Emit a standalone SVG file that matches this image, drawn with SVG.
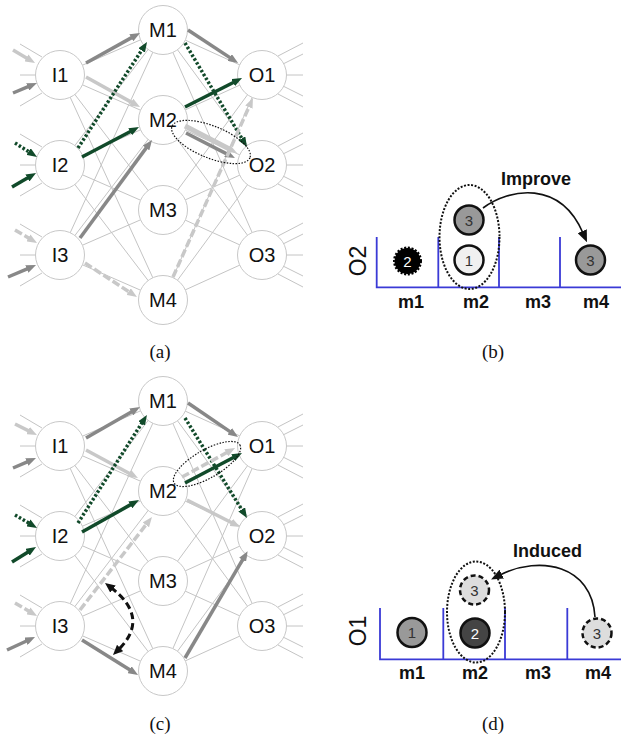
<svg xmlns="http://www.w3.org/2000/svg" xmlns:xlink="http://www.w3.org/1999/xlink" width="623" height="738" viewBox="0 0 623 738">
  <style>
    .bg { stroke: #c4c4c4; stroke-width: 1; fill: none; }
    .node circle { fill: #ffffff; stroke: #c8c8c8; stroke-width: 1; }
    .node text { font-family: "Liberation Sans", Arial, sans-serif; font-size: 20px; text-anchor: middle; fill: #111111; }
    .e { fill: none; stroke-width: 3.5; }
    .dk { stroke: #888888; marker-end: url(#mDk); }
    .lt { stroke: #c8c8c8; marker-end: url(#mLt); }
    .gn { stroke: #114a2a; marker-end: url(#mGn); }
    .dot { stroke-dasharray: 2.5 2; }
    .dash { stroke-dasharray: 8 3; }
    .ring { fill: none; stroke: #111111; stroke-width: 1.2; stroke-dasharray: 1.5 1.5; }
    .bin { stroke: #3a3ad6; stroke-width: 1.8; fill: none; }
    .lbl { font-family: "Liberation Sans", Arial, sans-serif; font-weight: bold; font-size: 18px; text-anchor: middle; fill: #111111; }
    .axis { font-family: "Liberation Sans", Arial, sans-serif; font-size: 23px; text-anchor: middle; fill: #111111; }
    .tok { stroke: #111111; stroke-width: 2.5; }
    .num { font-family: "Liberation Sans", Arial, sans-serif; font-size: 15px; text-anchor: middle; fill: #333333; }
    .cap { font-family: "Liberation Serif", "Times New Roman", serif; font-size: 19px; text-anchor: middle; fill: #111111; }
  </style>
  <defs>
    <marker id="mDk" markerUnits="userSpaceOnUse" markerWidth="10" markerHeight="8" refX="3" refY="4" orient="auto"><path d="M0,0 L10,4 L0,8 z" fill="#888888"/></marker>
    <marker id="mLt" markerUnits="userSpaceOnUse" markerWidth="10" markerHeight="8" refX="3" refY="4" orient="auto"><path d="M0,0 L10,4 L0,8 z" fill="#c8c8c8"/></marker>
    <marker id="mGn" markerUnits="userSpaceOnUse" markerWidth="10" markerHeight="8" refX="3" refY="4" orient="auto"><path d="M0,0 L10,4 L0,8 z" fill="#114a2a"/></marker>
    <marker id="mBk" markerUnits="userSpaceOnUse" markerWidth="10" markerHeight="9" refX="3" refY="4.5" orient="auto-start-reverse"><path d="M0,0 L10,4.5 L0,9 z" fill="#111111"/></marker>
    <marker id="mBig" markerUnits="userSpaceOnUse" markerWidth="12" markerHeight="10" refX="2" refY="5" orient="auto"><path d="M0,0 L12,5 L0,10 z" fill="#111111"/></marker>
    <!-- full mesh of the three-layer network plus stubs to the neighbouring layers -->
    <g id="mesh" class="bg">
      <path d="M60 75L163 30M60 75L163 120M60 75L163 210M60 75L163 300
               M60 165L163 30M60 165L163 120M60 165L163 210M60 165L163 300
               M60 255L163 30M60 255L163 120M60 255L163 210M60 255L163 300
               M163 30L262 75M163 30L262 165M163 30L262 255
               M163 120L262 75M163 120L262 165M163 120L262 255
               M163 210L262 75M163 210L262 165M163 210L262 255
               M163 300L262 75M163 300L262 165M163 300L262 255"/>
      <path d="M20 44L42 57M20 75L36 75M20 106L42 93
               M20 134L42 147M20 165L36 165M20 196L42 183
               M20 224L42 237M20 255L36 255M20 286L42 273"/>
      <path d="M278 56L303 43M283 64L303 54M282 75L303 75M283 86L303 96M278 94L303 107
               M278 146L303 133M283 154L303 144M282 165L303 165M283 176L303 186M278 184L303 197
               M278 236L303 223M283 244L303 234M282 255L303 255M283 266L303 276M278 274L303 287"/>
    </g>
  </defs>

  <!-- network background -->
  <g id="mesh-a"><use xlink:href="#mesh"/></g>
  <g id="mesh-c"><use xlink:href="#mesh" y="371"/></g>

  <!-- panel (a) nodes -->
  <g id="a-I1" class="node"><circle cx="60" cy="75" r="24.5"/><text x="60" y="82.2">I1</text></g>
  <g id="a-I2" class="node"><circle cx="60" cy="165" r="24.5"/><text x="60" y="172.2">I2</text></g>
  <g id="a-I3" class="node"><circle cx="60" cy="255" r="24.5"/><text x="60" y="262.2">I3</text></g>
  <g id="a-M1" class="node"><circle cx="163" cy="30" r="24.5"/><text x="163" y="37.2">M1</text></g>
  <g id="a-M2" class="node"><circle cx="163" cy="120" r="24.5"/><text x="163" y="127.2">M2</text></g>
  <g id="a-M3" class="node"><circle cx="163" cy="210" r="24.5"/><text x="163" y="217.2">M3</text></g>
  <g id="a-M4" class="node"><circle cx="163" cy="300" r="24.5"/><text x="163" y="307.2">M4</text></g>
  <g id="a-O1" class="node"><circle cx="262" cy="75" r="24.5"/><text x="262" y="82.2">O1</text></g>
  <g id="a-O2" class="node"><circle cx="262" cy="165" r="24.5"/><text x="262" y="172.2">O2</text></g>
  <g id="a-O3" class="node"><circle cx="262" cy="255" r="24.5"/><text x="262" y="262.2">O3</text></g>

  <!-- panel (c) nodes -->
  <g id="c-I1" class="node"><circle cx="60" cy="446" r="24.5"/><text x="60" y="453.2">I1</text></g>
  <g id="c-I2" class="node"><circle cx="60" cy="536" r="24.5"/><text x="60" y="543.2">I2</text></g>
  <g id="c-I3" class="node"><circle cx="60" cy="626" r="24.5"/><text x="60" y="633.2">I3</text></g>
  <g id="c-M1" class="node"><circle cx="163" cy="401" r="24.5"/><text x="163" y="408.2">M1</text></g>
  <g id="c-M2" class="node"><circle cx="163" cy="491" r="24.5"/><text x="163" y="498.2">M2</text></g>
  <g id="c-M3" class="node"><circle cx="163" cy="581" r="24.5"/><text x="163" y="588.2">M3</text></g>
  <g id="c-M4" class="node"><circle cx="163" cy="671" r="24.5"/><text x="163" y="678.2">M4</text></g>
  <g id="c-O1" class="node"><circle cx="262" cy="446" r="24.5"/><text x="262" y="453.2">O1</text></g>
  <g id="c-O2" class="node"><circle cx="262" cy="536" r="24.5"/><text x="262" y="543.2">O2</text></g>
  <g id="c-O3" class="node"><circle cx="262" cy="626" r="24.5"/><text x="262" y="633.2">O3</text></g>

  <!-- highlighted connections -->
  <g id="connectors">
    <!-- panel (a) -->
    <path class="e lt" d="M13 50L29 59.4"/>
    <path class="e dk" d="M13 93L30.5 85.7"/>
    <path class="e gn dot" d="M15 143L31.1 153.2"/>
    <path class="e gn" d="M12 187L30 176.5"/>
    <path class="e lt dash" d="M15 230L31 239.4"/>
    <path class="e dk" d="M8 277L29.6 267.8"/>
    <path class="e dk" d="M86 63L133.9 36.4"/>
    <path class="e lt" d="M86 77L133.9 103.6"/>
    <path class="e gn dot" d="M78 148L143.2 47.9"/>
    <path class="e gn" d="M82 157L132.8 130.3"/>
    <path class="e dk" d="M80 238L147.9 145.6"/>
    <path class="e lt dash" d="M85 263L131.1 293.2"/>
    <path class="e dk" d="M188 30L232.2 59.1"/>
    <path class="e gn dot" d="M185 43L243.4 141"/>
    <path class="e gn" d="M185 107L235.8 81.2"/>
    <path class="e lt" style="stroke-width:5" d="M185 126L230.8 149.8"/>
    <path class="e dk" d="M186 133L228.7 154.9"/>
    <path class="e lt dash" d="M173 277L250.1 104.4"/>
    <ellipse class="ring" cx="211" cy="142" rx="42" ry="16" transform="rotate(22 211 142)"/>

    <!-- panel (c) -->
    <path class="e lt" d="M15 424L30.7 431.9"/>
    <path class="e dk" d="M13 468L29.6 460.8"/>
    <path class="e gn dot" d="M15 515L31 524.4"/>
    <path class="e gn" d="M12 562L30.1 550.7"/>
    <path class="e lt dash" d="M15 603L31 612.4"/>
    <path class="e dk" d="M7 650L28.7 640"/>
    <path class="e dk" d="M86 438L133.9 410.5"/>
    <path class="e lt" d="M86 450L131.8 474.7"/>
    <path class="e gn dot" d="M78 523L143.2 420.9"/>
    <path class="e gn" d="M82 532L132.9 503.4"/>
    <path class="e lt dash" d="M80 610L147.7 522.5"/>
    <path class="e dk" d="M82 640L132.1 671.3"/>
    <path class="e dk" d="M188 403L232.2 433.1"/>
    <path class="e gn dot" d="M185 418L243.3 512"/>
    <path class="e lt dash" d="M182 477L228.9 451.4"/>
    <path class="e gn" d="M185 483L235.8 456.3"/>
    <path class="e lt" d="M187 500L233.8 523.8"/>
    <path class="e dk" d="M185 658L244.1 557.2"/>
    <ellipse class="ring" cx="207" cy="464" rx="38" ry="14" transform="rotate(-30 207 464)"/>
    <path d="M110.6 587.2Q151 618 118 650.1" fill="none" stroke="#111111" stroke-width="3" stroke-dasharray="7 4" marker-start="url(#mBk)" marker-end="url(#mBk)"/>
  </g>

  <!-- panel (b): placement on output O2 -->
  <g id="b-chart">
    <path class="bin" d="M376.7 237V287.3H621M438.3 237V287.3M499 237V287.3M560 237V287.3"/>
    <text class="axis" transform="translate(366 261) rotate(-90)">O2</text>
    <text class="lbl" x="411" y="308">m1</text>
    <text class="lbl" x="476" y="308">m2</text>
    <text class="lbl" x="538" y="308">m3</text>
    <text class="lbl" x="596" y="308">m4</text>
  </g>
  <g id="b-tok2"><circle cx="407.5" cy="261" r="13" fill="#000000" stroke="#000000" stroke-width="3" stroke-dasharray="2 1.6"/><text class="num" x="407.5" y="266.5" style="fill:#ffffff">2</text></g>
  <g id="b-tok3"><circle class="tok" cx="469" cy="220" r="14.5" fill="#999999"/><text class="num" x="469" y="225.5">3</text></g>
  <g id="b-tok1"><circle class="tok" cx="469" cy="260" r="14.5" fill="#f0f0f0"/><text class="num" x="469" y="265.5">1</text></g>
  <g id="b-tok3m"><circle class="tok" cx="590.5" cy="260" r="14.5" fill="#999999"/><text class="num" x="590.5" y="265.5">3</text></g>
  <g id="b-links">
    <ellipse cx="469.5" cy="237" rx="30" ry="52" fill="none" stroke="#111111" stroke-width="2" stroke-dasharray="2 1.6"/>
    <path d="M483 208C510 188 560 180 583 233" fill="none" stroke="#111111" stroke-width="1.6" marker-end="url(#mBig)"/>
    <text class="lbl" x="536" y="185">Improve</text>
  </g>

  <!-- panel (d): placement on output O1 -->
  <g id="d-chart">
    <path class="bin" d="M380 608V659.3H621M443.3 608V659.3M505 608V659.3M567.3 608V659.3"/>
    <text class="axis" transform="translate(366 631) rotate(-90)">O1</text>
    <text class="lbl" x="412" y="679">m1</text>
    <text class="lbl" x="475" y="679">m2</text>
    <text class="lbl" x="538" y="679">m3</text>
    <text class="lbl" x="598" y="679">m4</text>
  </g>
  <g id="d-tok1"><circle class="tok" cx="412" cy="632.5" r="14.5" fill="#999999"/><text class="num" x="412" y="638">1</text></g>
  <g id="d-tok2"><circle class="tok" cx="475" cy="633" r="14.5" fill="#444444"/><text class="num" x="475" y="638.5" style="fill:#ffffff">2</text></g>
  <g id="d-tok3"><circle class="tok" cx="474.5" cy="590" r="14.5" fill="#dddddd" stroke-dasharray="5 3"/><text class="num" x="474.5" y="595.5">3</text></g>
  <g id="d-tok3m"><circle class="tok" cx="597" cy="633" r="14.5" fill="#dddddd" stroke-dasharray="5 3"/><text class="num" x="597" y="638.5">3</text></g>
  <g id="d-links">
    <ellipse cx="476" cy="612" rx="29" ry="50.5" fill="none" stroke="#111111" stroke-width="2" stroke-dasharray="2 1.6"/>
    <path d="M595 617C592 565 540 555 500 575" fill="none" stroke="#111111" stroke-width="1.6" marker-end="url(#mBig)"/>
    <text class="lbl" x="547.5" y="557">Induced</text>
  </g>

  <!-- captions -->
  <g id="captions">
    <text class="cap" x="160" y="358">(a)</text>
    <text class="cap" x="493" y="358">(b)</text>
    <text class="cap" x="160" y="730">(c)</text>
    <text class="cap" x="493" y="730">(d)</text>
  </g>
</svg>
